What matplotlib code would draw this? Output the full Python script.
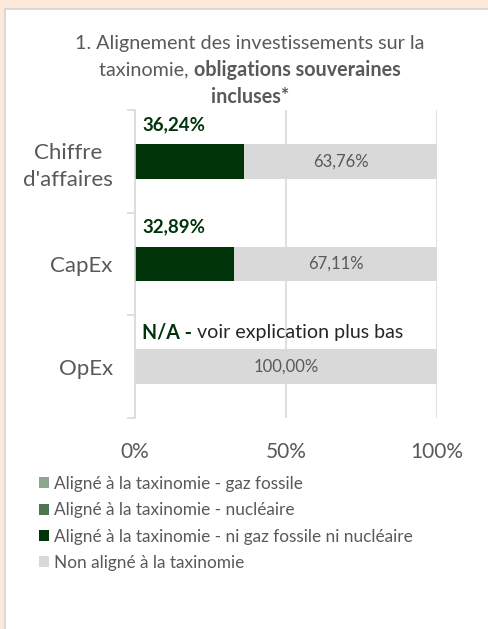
import matplotlib
matplotlib.use("Agg")
import matplotlib.pyplot as plt
from matplotlib.patches import Rectangle
import numpy as np

plt.rcParams['font.family'] = ['Lato', 'DejaVu Sans']

categories = ["Chiffre\nd'affaires", "CapEx", "OpEx"]
gaz_fossile = [0.0, 0.0, 0.0]
nucleaire = [0.0, 0.0, 0.0]
ni_gaz_ni_nucl = [36.24, 32.89, 0.0]
non_aligne = [63.76, 67.11, 100.0]
green_labels = ["36,24%", "32,89%", None]
gray_labels = ["63,76%", "67,11%", "100,00%"]
xticks = [0, 50, 100]
xticklabels = ["0%", "50%", "100%"]
series_names = ["Aligné à la taxinomie - gaz fossile",
                "Aligné à la taxinomie - nucléaire",
                "Aligné à la taxinomie - ni gaz fossile ni nucléaire",
                "Non aligné à la taxinomie"]
colors = ["#8CA78C", "#4E7551", "#003308", "#D9D9D9"]

W, H = 488, 629
fig = plt.figure(figsize=(W/100, H/100), dpi=100, facecolor="#FCE9D9")
fig.patches.append(Rectangle((5/W, -0.01), 1.0, (H-9)/H + 0.01, transform=fig.transFigure,
                             facecolor="white", edgecolor="#D4D4D4", linewidth=1.2, zorder=-5))

ax = fig.add_axes([135/W, (H-418)/H, (437-135)/W, (418-110)/H])
ax.set_facecolor("white")
y = np.arange(len(categories))
bh = 0.34
left = np.zeros(len(categories))
bars = []
for vals, c, name in zip([gaz_fossile, nucleaire, ni_gaz_ni_nucl, non_aligne], colors, series_names):
    b = ax.barh(y, vals, left=left, height=bh, color=c, label=name, zorder=2)
    bars.append(b)
    left = left + np.array(vals)

ax.set_xlim(0, 100)
ax.set_ylim(2.5, -0.5)
ax.set_xticks(xticks)
ax.set_xticklabels(xticklabels, fontsize=15, color="#595959")
ax.tick_params(axis='x', length=0, pad=17)
ax.set_yticks(y)
ax.set_yticklabels(categories, fontsize=16, color="#595959", multialignment='center',
                   linespacing=1.4)
ax.tick_params(axis='y', which='major', length=0, pad=16)
ax.set_yticks([-0.5, 0.5, 1.5, 2.5], minor=True)
ax.tick_params(axis='y', which='minor', length=6, width=1.2, color="#D9D9D9")
for s in ['top', 'right', 'bottom']:
    ax.spines[s].set_visible(False)
ax.spines['left'].set_color("#D9D9D9")
ax.spines['left'].set_linewidth(1.2)
ax.grid(axis='x', color="#D9D9D9", linewidth=1.2, zorder=1)
ax.set_axisbelow(True)

for i in range(len(categories)):
    if gray_labels[i]:
        cx = ni_gaz_ni_nucl[i] + non_aligne[i] / 2
        ax.text(cx, i, gray_labels[i], ha='center', va='center', fontsize=12, color="#595959", zorder=3)
    if green_labels[i]:
        ax.text(2.6, i - 0.36, green_labels[i], ha='left', va='center', fontsize=13.5,
                fontweight='bold', color="#00330A", zorder=3)

# N/A annotation
t1 = ax.text(2.3, 2 - 0.33, "N/A -", ha='left', va='center', fontsize=14.1, fontweight='bold',
             color="#00330A", zorder=3)
ax.annotate(" voir explication plus bas", xy=(1, 0.5), xycoords=t1, ha='left', va='center',
            fontsize=14.1, color="#262626", zorder=3)

# Title with mixed weights
tc = "#595959"
fs_t = 14.2
cx = 250 / W
fig.text(cx, 1 - 44/H, "1. Alignement des investissements sur la", ha='center', va='center',
         fontsize=fs_t, color=tc)
renderer = fig.canvas.get_renderer()
p1 = "taxinomie, "
p2 = "obligations souveraines"
ta = fig.text(0, 0, p1, fontsize=fs_t, color=tc)
tb = fig.text(0, 0, p2, fontsize=fs_t, color=tc, fontweight='bold')
wa = ta.get_window_extent(renderer).width
wb = tb.get_window_extent(renderer).width
x0 = cx * W - (wa + wb) / 2
ta.set_position((x0 / W, 1 - 70/H)); ta.set_va('center')
tb.set_position(((x0 + wa) / W, 1 - 70/H)); tb.set_va('center')
fig.text(cx, 1 - 97/H, "incluses*", ha='center', va='center', fontsize=fs_t, color=tc, fontweight='bold')

leg = fig.legend(handles=[b for b in bars], labels=series_names, loc='upper left',
                 bbox_to_anchor=(32/W, 1 - 469/H), frameon=False, fontsize=12.4,
                 handlelength=0.6, handleheight=0.6, handletextpad=0.3, labelspacing=0.6,
                 labelcolor="#595959", borderaxespad=0)

fig.savefig("out.png", dpi=100, facecolor=fig.get_facecolor())
